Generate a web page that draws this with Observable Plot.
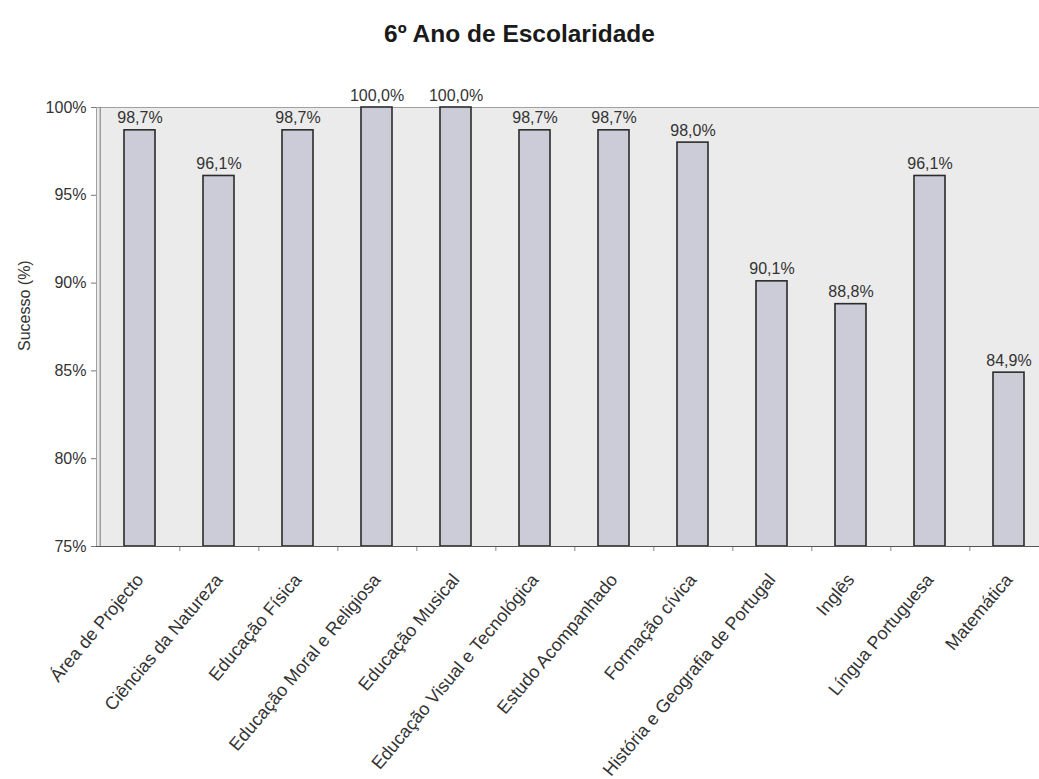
<!DOCTYPE html>
<html><head><meta charset="utf-8">
<script src="https://cdn.jsdelivr.net/npm/d3@7"></script>
<script src="https://cdn.jsdelivr.net/npm/@observablehq/plot@0.6"></script>
<style>
html,body{margin:0;padding:0;background:#fff;overflow:hidden;font-family:"Liberation Sans",Arial,sans-serif;}
#title{height:70px;line-height:68px;text-align:center;font-weight:bold;font-size:24.5px;color:#1a1a1a;}
#chart{width:1039px;overflow:hidden;}
#chart svg{display:block;}
</style></head><body>
<div id="title">6º Ano de Escolaridade</div>
<div id="chart"></div>
<script>
const categories = [
  "Área de Projecto",
  "Ciências da Natureza",
  "Educação Física",
  "Educação Moral e Religiosa",
  "Educação Musical",
  "Educação Visual e Tecnológica",
  "Estudo Acompanhado",
  "Formação cívica",
  "História e Geografia de Portugal",
  "Inglês",
  "Língua Portuguesa",
  "Matemática"
];
const values = [98.7, 96.1, 98.7, 100.0, 100.0, 98.7, 98.7, 98.0, 90.1, 88.8, 96.1, 84.9];
const yDomain = [75, 100];
const yTicks = [75, 80, 85, 90, 95, 100];
const yLabel = "Sucesso (%)";

const data = categories.map((c, i) => ({subject: c, value: values[i]}));
const width = 1052, marginLeft = 96, marginRight = 0;
const step = (width - marginLeft - marginRight) / categories.length;
const fmt = v => d3.format(".1f")(v).replace(".", ",") + "%";

const chart = Plot.plot({
  width,
  height: 709,
  marginTop: 37,
  marginBottom: 233,
  marginLeft,
  marginRight,
  style: {fontFamily: "Liberation Sans, Arial, sans-serif", fontSize: "16px", color: "#333", background: "transparent", maxWidth: "none"},
  x: {type: "band", domain: categories, paddingInner: 0.61, paddingOuter: 0.305, label: null},
  y: {domain: yDomain, ticks: yTicks, label: null},
  marks: [
    Plot.frame({fill: "#ebebeb", stroke: "#a0a0a0"}),
    Plot.barY(data, {x: "subject", y1: yDomain[0], y2: "value", fill: "#cbccd8", stroke: "#2b2b2b", strokeWidth: 1.6}),
    Plot.text(data, {x: "subject", y: "value", text: d => fmt(d.value), lineAnchor: "bottom", dy: -7, fontSize: 16, fill: "#333"}),
    Plot.axisY({ticks: yTicks, tickFormat: d => d + "%", tickSize: 5, tickPadding: 5, fontSize: 16, label: null, stroke: "#777"}),
    Plot.text([yLabel], {frameAnchor: "left", dx: -72, dy: 24, rotate: -90, fontSize: 16, fill: "#333"}),
    Plot.axisX({tickSize: 0, tickRotate: -50, tickPadding: 30, fontSize: 18, label: null, fill: "#333"}),
    Plot.axisX({tickSize: 5, tickFormat: () => "", dx: step / 2, label: null, stroke: "#888"}),
    Plot.ruleY([yDomain[0]], {stroke: "#555", strokeWidth: 1.2}),
    Plot.ruleX([categories[0]], {dx: -step / 2, stroke: "#777"})
  ]
});
document.getElementById("chart").appendChild(chart);
</script>
</body></html>
